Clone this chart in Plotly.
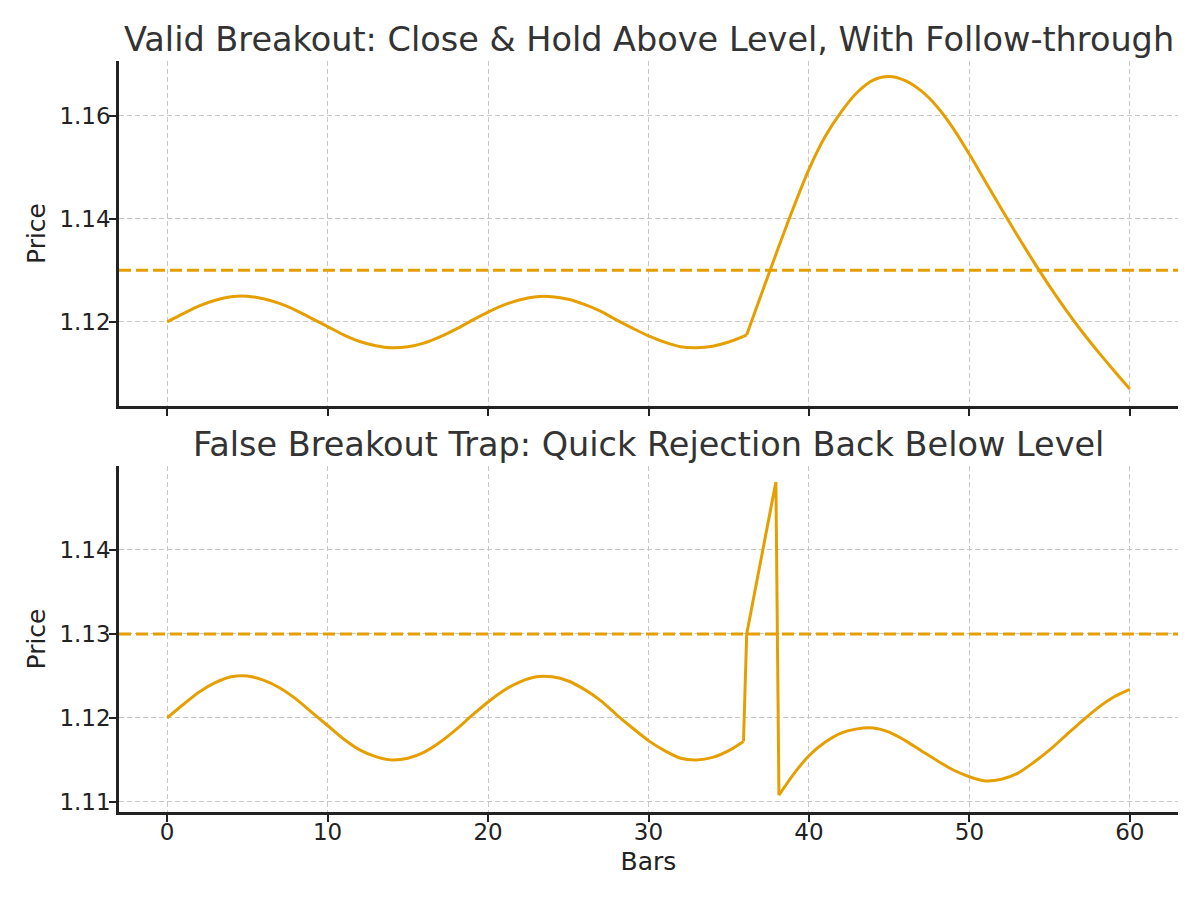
import plotly.graph_objects as go
from plotly.subplots import make_subplots

# =====================
# DATA
# =====================
LEVEL = 1.13

# range-bound swing, same in both panels, bars 0..36
base_bars = [0, 1, 2, 3, 4, 5, 6, 7, 8, 9, 10, 11, 12, 13, 14, 15, 16, 17, 18,
             19, 20, 21, 22, 23, 24, 25, 26, 27, 28, 29, 30, 31, 32, 33, 34, 35, 35.92]
base_price = [1.1200, 1.1216, 1.1231, 1.1242, 1.1249, 1.1250, 1.1245, 1.1236,
              1.1223, 1.1207, 1.1191, 1.1175, 1.1162, 1.1154, 1.1150, 1.1152,
              1.1159, 1.1171, 1.1186, 1.1203, 1.1219, 1.1233, 1.1243, 1.1249,
              1.1249, 1.1244, 1.1234, 1.1221, 1.1204, 1.1188, 1.1173, 1.1161,
              1.1152, 1.1150, 1.1153, 1.1161, 1.1172]

# valid breakout leg
valid_bars = [35.92, 36.12, 37, 38, 39, 40, 41, 42, 43, 44, 45, 46, 47, 48, 49, 50,
              51, 52, 53, 54, 55, 56, 57, 58, 59, 60]
valid_price = [1.1172, 1.1175, 1.1251, 1.1336, 1.1419, 1.1496, 1.1559, 1.1607,
               1.1645, 1.1669, 1.1676, 1.1668, 1.1648, 1.1617, 1.1575, 1.1525,
               1.1472, 1.1419, 1.1367, 1.1317, 1.1269, 1.1224, 1.1182, 1.1143,
               1.1106, 1.1070]

# false breakout spike and rejection
spike_bars = [35.92, 36.12, 37.94, 38.13]
spike_price = [1.1172, 1.1300, 1.1481, 1.1108]

after_bars = [38.13, 39, 40, 41, 42, 43, 44, 45, 46, 47, 48, 49, 50, 51, 52, 53,
              54, 55, 56, 57, 58, 59, 60]
after_price = [1.1108, 1.1132, 1.1155, 1.1171, 1.1182, 1.1187, 1.1188, 1.1183,
               1.1173, 1.1161, 1.1149, 1.1138, 1.1130, 1.1125, 1.1127, 1.1134,
               1.1147, 1.1162, 1.1179, 1.1196, 1.1212, 1.1225, 1.1234]

titles = ["Valid Breakout: Close & Hold Above Level, With Follow-through",
          "False Breakout Trap: Quick Rejection Back Below Level"]
top_ticks = [1.12, 1.14, 1.16]
bottom_ticks = [1.11, 1.12, 1.13, 1.14]
bar_ticks = [0, 10, 20, 30, 40, 50, 60]

# =====================
# STYLE
# =====================
ORANGE = "#E69F00"
INK = "#222222"
FONT = "DejaVu Sans"
W, H = 1200, 900
M = dict(l=119, r=22, t=61, b=88)

fig = make_subplots(rows=2, cols=1, shared_xaxes=True)

line = dict(color=ORANGE, width=3)
smooth = dict(color=ORANGE, width=3, shape="spline", smoothing=0.8)

fig.add_trace(go.Scatter(x=base_bars, y=base_price, mode="lines", line=smooth), row=1, col=1)
fig.add_trace(go.Scatter(x=valid_bars[:2], y=valid_price[:2], mode="lines", line=line), row=1, col=1)
fig.add_trace(go.Scatter(x=valid_bars[1:], y=valid_price[1:], mode="lines", line=smooth), row=1, col=1)

fig.add_trace(go.Scatter(x=base_bars, y=base_price, mode="lines", line=smooth), row=2, col=1)
fig.add_trace(go.Scatter(x=spike_bars, y=spike_price, mode="lines", line=line), row=2, col=1)
fig.add_trace(go.Scatter(x=after_bars, y=after_price, mode="lines", line=smooth), row=2, col=1)

# breakout level lines
for r in (1, 2):
    fig.add_trace(go.Scatter(x=[-3, 63], y=[LEVEL, LEVEL], mode="lines",
                             line=dict(color=ORANGE, width=3, dash="12px,5px")),
                  row=r, col=1)

axis_common = dict(
    showline=True, linecolor=INK, linewidth=2.5,
    ticks="outside", ticklen=7, tickwidth=2, tickcolor=INK,
    showgrid=True, gridcolor="#c8c8c8", gridwidth=1, griddash="5px,3px",
    zeroline=False, mirror=False,
    tickfont=dict(family=FONT, size=23, color=INK),
)
label_font = dict(family=FONT, size=25, color=INK)

fig.update_xaxes(axis_common, range=[-3, 63], tickvals=bar_ticks, ticklabelstandoff=-9)
fig.update_xaxes(showticklabels=False, row=1, col=1)
fig.update_xaxes(title=dict(text="Bars", font=label_font, standoff=9), row=2, col=1)
fig.update_yaxes(axis_common, tickformat=".2f", ticklabelstandoff=-6,
                 title=dict(text="Price", font=label_font, standoff=7))
fig.update_yaxes(range=[1.1037, 1.1706], tickvals=top_ticks, row=1, col=1)
fig.update_yaxes(range=[1.1088, 1.1500], tickvals=bottom_ticks, row=2, col=1)

plot_h = H - M["t"] - M["b"]
top_lo = (H - M["b"] - 406) / plot_h
bot_hi = (H - M["b"] - 466) / plot_h
fig.update_layout(yaxis=dict(domain=[top_lo, 1.0]), yaxis2=dict(domain=[0.0, bot_hi]))

for title, ytop in zip(titles, [1.0, bot_hi]):
    fig.add_annotation(text=title, xref="paper", yref="paper", x=0.5, y=ytop,
                       xanchor="center", yanchor="bottom", yshift=0, showarrow=False,
                       font=dict(family=FONT, size=33.5, color="#333333"))

fig.update_layout(
    width=W, height=H, margin=M,
    showlegend=False,
    paper_bgcolor="white", plot_bgcolor="white",
    font=dict(family=FONT, size=23, color=INK),
)

fig.write_html("out.html", config={"displayModeBar": False},
               post_script="document.body.style.margin='0px';")
